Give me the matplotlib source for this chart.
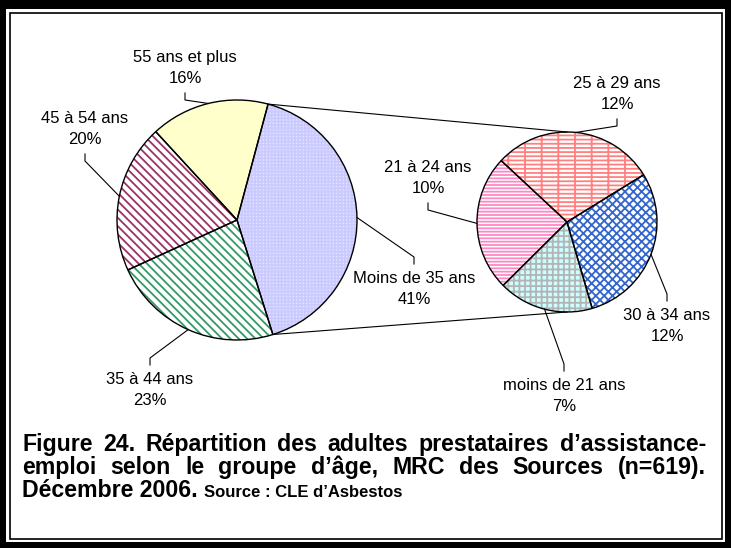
import matplotlib
matplotlib.use('Agg')
import matplotlib.pyplot as plt
from matplotlib.patches import Rectangle
import numpy as np

W, H = 731, 548

# données : graphique principal et détail des moins de 35 ans
main_labels = ['Moins de 35 ans', '35 à 44 ans', '45 à 54 ans', '55 ans et plus']
main_pct = [41, 23, 20, 16]
sub_labels = ['25 à 29 ans', '30 à 34 ans', 'moins de 21 ans', '21 à 24 ans']
sub_pct = [12, 12, 7, 10]

caption_1 = 'Figure 24. Répartition des adultes prestataires d’assistance-'
caption_2 = 'emploi selon le groupe d’âge, MRC des Sources (n=619).'
caption_3 = 'Décembre 2006.'
source = 'Source : CLE d’Asbestos'

plt.rcParams['font.family'] = ['Liberation Sans', 'DejaVu Sans']
plt.rcParams['hatch.linewidth'] = 1.3

fig = plt.figure(figsize=(W / 100, H / 100), dpi=100)
ax = fig.add_axes([0, 0, 1, 1])


def Y(y):
    return H - y


# cadre double
ax.add_patch(Rectangle((0, 0), W, H, facecolor='black', edgecolor='none', zorder=0))
ax.add_patch(Rectangle((6, 6), W - 12, H - 15, facecolor='white', edgecolor='none', zorder=0))
ax.add_patch(Rectangle((9.5, 9.5), W - 19, H - 22, facecolor='none', edgecolor='black',
                       lw=1.2, zorder=1))


def draw_pie(vals, center, r, start, faces, hcols, hatches):
    wedges, _ = ax.pie(vals, center=center, radius=r, startangle=start, counterclock=False)
    for w, f, c, h in zip(wedges, faces, hcols, hatches):
        w.set_facecolor(f)
        w.set_edgecolor(c)
        w.set_linewidth(0)
        w.set_hatch(h)
    ax.pie(vals, center=center, radius=r, startangle=start, counterclock=False,
           wedgeprops=dict(facecolor='none', edgecolor='black', linewidth=1.0))
    return wedges


c_main, r_main = (237, Y(220)), 120
c_sub, r_sub = (567, Y(222)), 90

w_main = draw_pie(main_pct, c_main, r_main, 75,
                  ['#e4e4ff', 'white', 'white', '#ffffcc'],
                  ['#cacaff', '#339966', '#993366', '#ffffcc'],
                  ['+++++', '\\' * 4, '\\' * 4, None])
w_sub = draw_pie(sub_pct, c_sub, r_sub, 137,
                 ['white', 'white', '#ccffff', 'white'],
                 ['#ff8080', '#3366cc', '#b4b4b4', '#ff88c4'],
                 ['----|', 'xxxx', '+++', '-' * 5])


def edge_pt(center, r, ang):
    a = np.deg2rad(ang)
    return center[0] + r * np.cos(a), center[1] + r * np.sin(a)


# lignes de liaison entre les deux secteurs
m = w_main[0]
for a_main, a_sub in [(m.theta2, 90), (m.theta1, 270)]:
    x0, y0 = edge_pt(c_main, r_main, a_main)
    x1, y1 = edge_pt(c_sub, r_sub, a_sub)
    ax.plot([x0, x1], [y0, y1], color='black', lw=0.8)


def label(w, center, r, text, pct, tx, ty, side):
    ex, ey = edge_pt(center, r, (w.theta1 + w.theta2) / 2)
    ax.text(tx, Y(ty), f'{text}\n{pct}%', ha='center', va='center',
            fontsize=12, linespacing=1.45)
    ya, yb = ty - side * 25, ty - side * 32
    ax.plot([tx, tx, ex], [Y(ya), Y(yb), ey], color='black', lw=0.8)


main_pos = [(414, 289, 1), (150, 390, 1), (85, 129, -1), (185, 68, -1)]
sub_pos = [(617, 94, -1), (667, 326, 1), (564, 396, 1), (428, 178, -1)]
for w, t, p, (tx, ty, s) in zip(w_main, main_labels, main_pct, main_pos):
    label(w, c_main, r_main, t, p, tx, ty, s)
for w, t, p, (tx, ty, s) in zip(w_sub, sub_labels, sub_pct, sub_pos):
    label(w, c_sub, r_sub, t, p, tx, ty, s)

ax.set_xlim(0, W)
ax.set_ylim(0, H)
ax.set_aspect('equal')
ax.axis('off')

# légende de la figure, justifiée
renderer = fig.canvas.get_renderer()
cap_family = ['Liberation Sans Narrow', 'Liberation Sans']
x_left, x_right = 22, 706


def width(s, size):
    t = ax.text(0, 0, s, fontsize=size, fontweight='bold', family=cap_family)
    wd = t.get_window_extent(renderer).width
    t.remove()
    return wd


size = 13.6 * (x_right - x_left) / width(caption_1, 14)


def justified(line, y):
    words = line.split(' ')
    ws = [width(wd, size) for wd in words]
    gap = (x_right - x_left - sum(ws)) / (len(words) - 1)
    x = x_left
    for wd, wv in zip(words, ws):
        ax.text(x, Y(y), wd, fontsize=size, fontweight='bold', family=cap_family,
                va='baseline', ha='left')
        x += wv + gap


justified(caption_1, 451)
justified(caption_2, 474)
ax.text(x_left, Y(497), caption_3, fontsize=size, fontweight='bold', family=cap_family,
        va='baseline', ha='left')
ax.text(x_left + width(caption_3 + ' ', size), Y(497), source, fontsize=size * 0.72,
        fontweight='bold', family=cap_family, va='baseline', ha='left')

fig.savefig('out.png', dpi=100)
